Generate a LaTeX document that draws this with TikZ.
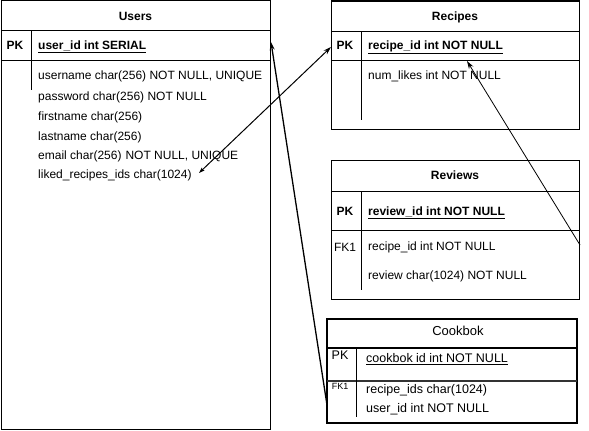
\documentclass[tikz,border=0pt]{standalone}
\usepackage{fontspec}
\setmainfont{Liberation Sans}
\usetikzlibrary{calc,arrows.meta,positioning}

\begin{document}
\begin{tikzpicture}[x=1pt,y=-1pt,font=\fontsize{12}{14}\selectfont]

\tikzset{tablebox/.style={draw,line width=1pt,inner sep=0pt,outer sep=0pt,shape=rectangle},
tabletitle/.style={font=\fontsize{12}{14}\selectfont\bfseries,inner sep=0pt,text height=8.6pt,text depth=0pt},
keylabel/.style={inner sep=0pt,text height=8.6pt,text depth=0pt},
boldkey/.style={keylabel,font=\fontsize{12}{14}\selectfont\bfseries},
field/.style={anchor=west,inner sep=0pt,text height=8.6pt,text depth=0pt},
boldfield/.style={field,font=\fontsize{12}{14}\selectfont\bfseries},
cookfield/.style={field,font=\fontsize{12.5}{14}\selectfont},
link/.style={line width=1pt,-{Stealth[length=8pt,width=5pt]}}}

% Frame
\useasboundingbox (0,0) rectangle (589,431);

% Tables
\node[tablebox,minimum width=269pt,minimum height=429pt] (users) at (135.5,215) {};
\node[tablebox,minimum width=248pt,minimum height=128pt] (recipes) at (455,65) {};
\node[tablebox,minimum width=248pt,minimum height=139pt] (reviews) at (455,229.5) {};
\node[tablebox,line width=2pt,minimum width=250pt,minimum height=104pt] (cookbok) at (452,371) {};

% Users
\draw ($(users.north west)+(0,29.5)$) -- ($(users.north east)+(0,29.5)$);
\draw ($(users.north west)+(0,59.5)$) -- ($(users.north east)+(0,59.5)$);
\draw ($(users.north west)+(30,29.5)$) -- +(0,60);
\node[tabletitle] (usersT) at ($(users.north)+(0,15.5)$) {Users};
\node[boldkey] (usersPKl) at ($(users.north west)+(14,44.5)$) {PK};
\node[boldfield] (usersId) at ($(users.north west)+(37,44.5)$) {\underline{user\_id int SERIAL}};
\foreach \y/\t/\n in {74.5/{username char(256) NOT NULL, UNIQUE}/1,95.5/{password char(256) NOT NULL}/2,115.5/{firstname char(256)}/3,135.5/{lastname char(256)}/4,154.5/{email char(256)\hspace{4pt}NOT NULL, UNIQUE}/5,173.5/{liked\_recipes\_ids char(1024)}/6}
  \node[field] (uf\n) at ($(users.north west)+(37,\y)$) {\t};

% Recipes
\draw ($(recipes.north west)+(0,30)$) -- ($(recipes.north east)+(0,30)$);
\draw ($(recipes.north west)+(0,59)$) -- ($(recipes.north east)+(0,59)$);
\draw ($(recipes.north west)+(30,30)$) -- +(0,89);
\node[tabletitle] (recipesT) at ($(recipes.north)+(0,15)$) {Recipes};
\node[boldkey] (recipesPKl) at ($(recipes.north west)+(14,44)$) {PK};
\node[boldfield] (recipesId) at ($(recipes.north west)+(37,44)$) {\underline{recipe\_id int NOT NULL}};
\node[field] (rf1) at ($(recipes.north west)+(37,74)$) {num\_likes int NOT NULL};

% Reviews
\draw ($(reviews.north west)+(0,31)$) -- ($(reviews.north east)+(0,31)$);
\draw ($(reviews.north west)+(0,70)$) -- ($(reviews.north east)+(0,70)$);
\draw ($(reviews.north west)+(30,31)$) -- +(0,99);
\node[tabletitle] (reviewsT) at ($(reviews.north)+(0,15)$) {Reviews};
\node[boldkey] (reviewsPKl) at ($(reviews.north west)+(14,51)$) {PK};
\node[boldfield] (reviewsId) at ($(reviews.north west)+(37,51)$) {\underline{review\_id int NOT NULL}};
\node[keylabel] (reviewsFKl) at ($(reviews.north west)+(14,87)$) {FK1};
\node[field] (vf1) at ($(reviews.north west)+(37,86)$) {recipe\_id int NOT NULL};
\node[field] (vf2) at ($(reviews.north west)+(37,115)$) {review char(1024) NOT NULL};

% Cookbok
\draw[line width=2pt] ($(cookbok.north west)+(0,29)$) -- ($(cookbok.north east)+(0,29)$);
\draw[line width=2pt,black!80] ($(cookbok.north west)+(0,62)$) -- ($(cookbok.north east)+(0,62)$);
\draw ($(cookbok.north west)+(29,29)$) -- +(0,69);
\node[keylabel,font=\fontsize{13}{15}\selectfont,text height=9.3pt] (cookbokT) at ($(cookbok.north)+(6,12)$) {Cookbok};
\node[keylabel,font=\fontsize{12.5}{14}\selectfont] (cookbokPKl) at ($(cookbok.north west)+(13,36)$) {PK};
\node[cookfield] (cookbokId) at ($(cookbok.north west)+(39,39.5)$) {\underline{cookbok id int NOT NULL}};
\node[keylabel,font=\fontsize{9}{10}\selectfont,text height=6.5pt] (cookbokFKl) at ($(cookbok.north west)+(13,67)$) {FK1};
\node[cookfield] (cf1) at ($(cookbok.north west)+(39,70)$) {recipe\_ids char(1024)};
\node[cookfield] (cf2) at ($(cookbok.north west)+(39,89.5)$) {user\_id int NOT NULL};

% Link end points
\coordinate (usersKey) at ($(users.north east)+(1,41.5)$);
\coordinate (likedEnd) at ($(users.north west)+(198,172.5)$);
\coordinate (recipesKey) at ($(recipes.north west)+(0,46)$);
\coordinate (recipesIdEnd) at ($(recipes.north west)+(136,60)$);
\coordinate (reviewsFK) at ($(reviews.north east)+(1,85)$);
\coordinate (cookbokUser) at ($(cookbok.north west)+(0,86)$);

% Links
\draw[link,line width=1.3pt] (cookbokUser) -- (usersKey);
\draw[link,{Stealth[length=6pt,width=4pt]}-{Stealth[length=8pt,width=5pt]}] (likedEnd) -- (recipesKey);
\draw[link,line width=0.8pt] (reviewsFK) -- (recipesIdEnd);

\end{tikzpicture}
\end{document}
